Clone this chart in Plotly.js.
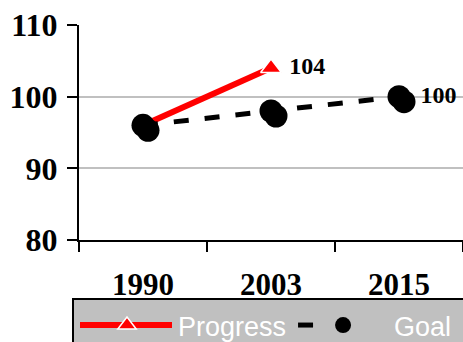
<!DOCTYPE html>
<html>
<head>
<meta charset="utf-8">
<script src="https://cdn.plot.ly/plotly-3.0.1.min.js"></script>
<style>html,body{margin:0;padding:0;background:#fff;}#chart{width:463px;height:342px;}</style>
</head>
<body>
<div id="chart"></div>
<script>
const years = ['1990', '2003', '2015'];
const progressYears = ['1990', '2003'];
const progressValues = [96, 104];
const progressLabels = ['', ' 104'];
const goalValues = [96, 98, 100];
const goalLabels = ['', '', ' 100'];
const yTicks = [80, 90, 100, 110];

const serif = 'Liberation Serif, Times New Roman, serif';

const traces = [
  {
    x: years, y: goalValues, xaxis: 'x2', yaxis: 'y2',
    type: 'scatter', mode: 'markers', showlegend: false, hoverinfo: 'skip',
    marker: {symbol: 'circle', size: 23, color: '#000'}
  },
  {
    x: progressYears, y: progressValues, name: 'Progress',
    type: 'scatter', mode: 'lines+markers+text',
    text: progressLabels, textposition: 'middle right',
    textfont: {family: serif, size: 24, color: '#000', weight: 'bold'},
    line: {color: '#ff0000', width: 6},
    marker: {symbol: 'triangle-up', size: 18, color: '#ff0000', line: {color: '#fff', width: 1.5}}
  },
  {
    x: years, y: goalValues, name: 'Goal',
    type: 'scatter', mode: 'lines+markers+text',
    text: goalLabels, textposition: 'middle right',
    textfont: {family: serif, size: 24, color: '#000', weight: 'bold'},
    line: {color: '#000', width: 5, dash: '15px,16px'},
    marker: {symbol: 'circle', size: 23, color: '#000'}
  }
];

const pxX = 128, pxY = 215 / 30;
const layout = {
  width: 463, height: 342,
  margin: {l: 79, r: 0, t: 25, b: 102, autoexpand: false},
  paper_bgcolor: '#fff', plot_bgcolor: '#fff',
  showlegend: true,
  xaxis: {
    type: 'category', categoryarray: years, range: [-0.5, 2.5],
    showgrid: false, zeroline: false,
    showline: true, linecolor: '#000', linewidth: 2,
    ticks: 'outside', ticklen: 10, tickwidth: 2, tickcolor: '#000',
    tickson: 'boundaries', ticklabelstandoff: 16,
    tickfont: {family: serif, size: 31, color: '#000', weight: 'bold'}
  },
  yaxis: {
    range: [80, 110], tickvals: yTicks, ticktext: yTicks.map(String),
    showgrid: true, gridcolor: '#c0c0c0', gridwidth: 2, zeroline: false,
    showline: true, linecolor: '#000', linewidth: 2,
    ticks: 'outside', ticklen: 10, tickwidth: 2, tickcolor: '#000',
    ticklabelstandoff: 3,
    tickfont: {family: serif, size: 32, color: '#000', weight: 'bold'}
  },
  xaxis2: {
    type: 'category', categoryarray: years, overlaying: 'x',
    range: [-0.5 - 5 / pxX, 2.5 - 5 / pxX], visible: false
  },
  yaxis2: {
    overlaying: 'y', range: [80 + 5 / pxY, 110 + 5 / pxY], visible: false
  },
  shapes: [{
    type: 'rect', xref: 'paper', yref: 'paper',
    x0: -6 / 384, x1: 1.05, y0: (240 - 350) / 215, y1: (240 - 299) / 215,
    fillcolor: '#c0c0c0', line: {color: '#000', width: 2}, layer: 'above'
  }],
  legend: {
    orientation: 'h', x: -4 / 384, xanchor: 'left', y: (240 - 301) / 215, yanchor: 'top',
    bgcolor: 'rgba(0,0,0,0)', borderwidth: 0,
    font: {family: 'Liberation Sans, Arial, sans-serif', size: 27, color: '#fff'},
    itemwidth: 93, traceorder: 'normal'
  }
};

Plotly.newPlot('chart', traces, layout, {displayModeBar: false, staticPlot: true}).then(function (gd) {
  // stretch legend symbols to resemble the original legend keys
  const items = gd.querySelectorAll('.legend .traces');
  items.forEach(function (g) {
    const name = g.querySelector('.legendtext').textContent;
    const line = g.querySelector('.legendlines path');
    const pt = g.querySelector('.legendpoints path');
    if (name === 'Progress') {
      if (line) line.setAttribute('d', 'M5,0h92');
      if (pt) pt.setAttribute('transform', 'translate(52,0)');
    } else if (name === 'Goal') {
      if (line) line.setAttribute('d', 'M7,0h15');
      if (pt) pt.setAttribute('transform', 'translate(52,0)');
    }
  });
});
</script>
</body>
</html>
